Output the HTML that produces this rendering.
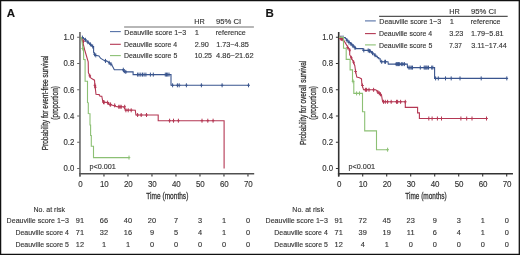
<!DOCTYPE html>
<html><head><meta charset="utf-8"><style>
html,body{margin:0;padding:0;background:#fff;}
svg{display:block;font-family:"Liberation Sans", sans-serif;will-change:transform;}
text{stroke:#333;stroke-width:0.14px;}
text.c{stroke-width:0.3px;}
</style></head><body>
<svg width="520" height="255" viewBox="0 0 520 255">
<path d="M0 0.6H520M0.6 0V255M519.3 0V255M0 254.3H520" stroke="#111" stroke-width="1.3" fill="none"/>
<text x="6.80" y="16.6" font-size="11.5" text-anchor="start" fill="#111" font-weight="bold">A</text>
<path d="M79.95 32V176.5" stroke="#666" stroke-width="1.6" fill="none"/>
<path d="M79.15 173.7H254.20" stroke="#505050" stroke-width="1.6" fill="none"/>
<path d="M77.15 168.50H79.95M77.15 142.26H79.95M77.15 116.02H79.95M77.15 89.78H79.95M77.15 63.54H79.95M77.15 37.30H79.95" stroke="#666" stroke-width="1.1" fill="none"/>
<path d="M79.95 173.7V176.6M103.95 173.7V176.6M127.95 173.7V176.6M151.95 173.7V176.6M175.95 173.7V176.6M199.95 173.7V176.6M223.95 173.7V176.6M247.95 173.7V176.6" stroke="#666" stroke-width="1.5" fill="none"/>
<text x="74.25" y="171.35" font-size="8.5" text-anchor="end" fill="#333" textLength="10.84" lengthAdjust="spacingAndGlyphs">0.0</text>
<text x="74.25" y="145.11" font-size="8.5" text-anchor="end" fill="#333" textLength="10.84" lengthAdjust="spacingAndGlyphs">0.2</text>
<text x="74.25" y="118.87" font-size="8.5" text-anchor="end" fill="#333" textLength="10.84" lengthAdjust="spacingAndGlyphs">0.4</text>
<text x="74.25" y="92.63" font-size="8.5" text-anchor="end" fill="#333" textLength="10.84" lengthAdjust="spacingAndGlyphs">0.6</text>
<text x="74.25" y="66.39" font-size="8.5" text-anchor="end" fill="#333" textLength="10.84" lengthAdjust="spacingAndGlyphs">0.8</text>
<text x="74.25" y="40.15" font-size="8.5" text-anchor="end" fill="#333" textLength="10.84" lengthAdjust="spacingAndGlyphs">1.0</text>
<text x="80.35" y="186.75" font-size="8.3" text-anchor="middle" fill="#333" textLength="4.43" lengthAdjust="spacingAndGlyphs">0</text>
<text x="104.35" y="186.75" font-size="8.3" text-anchor="middle" fill="#333" textLength="8.86" lengthAdjust="spacingAndGlyphs">10</text>
<text x="128.35" y="186.75" font-size="8.3" text-anchor="middle" fill="#333" textLength="8.86" lengthAdjust="spacingAndGlyphs">20</text>
<text x="152.35" y="186.75" font-size="8.3" text-anchor="middle" fill="#333" textLength="8.86" lengthAdjust="spacingAndGlyphs">30</text>
<text x="176.35" y="186.75" font-size="8.3" text-anchor="middle" fill="#333" textLength="8.86" lengthAdjust="spacingAndGlyphs">40</text>
<text x="200.35" y="186.75" font-size="8.3" text-anchor="middle" fill="#333" textLength="8.86" lengthAdjust="spacingAndGlyphs">50</text>
<text x="224.35" y="186.75" font-size="8.3" text-anchor="middle" fill="#333" textLength="8.86" lengthAdjust="spacingAndGlyphs">60</text>
<text x="248.35" y="186.75" font-size="8.3" text-anchor="middle" fill="#333" textLength="8.86" lengthAdjust="spacingAndGlyphs">70</text>
<text x="146.36" y="199.30" font-size="9.4" fill="#333" textLength="41.95" lengthAdjust="spacingAndGlyphs" class="c">Time (months)</text>
<g transform="translate(47.50,102.85) rotate(-90)"><text x="-47.48" y="0.00" font-size="9.6" fill="#333" textLength="94.87" lengthAdjust="spacingAndGlyphs" class="c">Probability for event-free survival</text></g>
<g transform="translate(57.70,102.85) rotate(-90)"><text x="-16.80" y="0.00" font-size="9.6" fill="#333" textLength="33.61" lengthAdjust="spacingAndGlyphs" class="c">(proportion)</text></g>
<text x="89.44" y="168.80" font-size="7.7" fill="#333" textLength="26.42" lengthAdjust="spacingAndGlyphs">p&lt;0.001</text>
<polyline points="80.50,37.60 82.00,37.60 83.29,37.60 83.29,38.71 84.58,38.71 84.58,39.82 85.87,39.82 85.87,40.93 87.16,40.93 87.16,42.04 88.44,42.04 88.44,43.16 89.73,43.16 89.73,44.27 91.02,44.27 91.02,45.38 92.31,45.38 92.31,46.49 93.60,46.49 93.60,47.60 93.60,52.30 95.50,55.30 99.00,55.90 100.50,58.20 103.50,60.10 105.50,60.90 107.40,61.20 111.80,64.80 114.30,69.70 122.60,69.70 124.30,71.90 133.10,71.90 133.10,74.60 171.00,74.60 171.00,85.30 249.40,85.30" fill="none" stroke="#3a558e" stroke-width="1.1" stroke-linejoin="miter"/>
<path d="M82.40 35.60v4.00M81.10 37.60h2.60M85.40 37.80v4.00M84.10 39.80h2.60M87.90 40.20v4.00M86.60 42.20h2.60M90.40 42.40v4.00M89.10 44.40h2.60M92.70 44.50v4.00M91.40 46.50h2.60M94.60 52.30v4.00M93.30 54.30h2.60M95.80 53.40v4.00M94.50 55.40h2.60M105.50 58.90v4.00M104.20 60.90h2.60M109.20 60.80v4.00M107.90 62.80h2.60M111.00 62.20v4.00M109.70 64.20h2.60M123.30 67.70v4.00M122.00 69.70h2.60M124.30 69.20v4.00M123.00 71.20h2.60M125.80 69.90v4.00M124.50 71.90h2.60M137.60 72.60v4.00M136.30 74.60h2.60M139.00 72.60v4.00M137.70 74.60h2.60M140.80 72.60v4.00M139.50 74.60h2.60M142.50 72.60v4.00M141.20 74.60h2.60M144.10 72.60v4.00M142.80 74.60h2.60M145.90 72.60v4.00M144.60 74.60h2.60M150.40 72.60v4.00M149.10 74.60h2.60M153.30 72.60v4.00M152.00 74.60h2.60M165.30 72.60v4.00M164.00 74.60h2.60M166.50 72.60v4.00M165.20 74.60h2.60M167.70 72.60v4.00M166.40 74.60h2.60M169.00 72.60v4.00M167.70 74.60h2.60M172.60 83.30v4.00M171.30 85.30h2.60M177.40 83.30v4.00M176.10 85.30h2.60M179.20 83.30v4.00M177.90 85.30h2.60M186.40 83.30v4.00M185.10 85.30h2.60M201.40 83.30v4.00M200.10 85.30h2.60M222.10 83.30v4.00M220.80 85.30h2.60M248.50 83.30v4.00M247.20 85.30h2.60" stroke="#3a558e" stroke-width="1.0" fill="none"/>
<polyline points="80.50,37.60 81.00,37.60 82.00,39.00 84.70,50.00 88.20,61.80 88.40,72.70 89.80,75.80 91.00,78.20 94.50,80.20 94.90,85.30 95.30,88.00 96.00,94.20 99.20,94.60 100.00,96.20 101.80,96.20 102.90,102.10 108.20,102.60 108.80,104.40 111.80,105.00 117.00,106.80 123.50,106.80 125.30,109.70 135.30,110.30 135.90,115.00 158.20,115.00 158.20,120.70 224.10,120.70 224.10,168.60" fill="none" stroke="#b43753" stroke-width="1.1" stroke-linejoin="miter"/>
<path d="M83.50 39.40v4.00M82.20 41.40h2.60M89.80 73.80v4.00M88.50 75.80h2.60M94.90 83.30v4.00M93.60 85.30h2.60M95.30 85.20v4.00M94.00 87.20h2.60M103.50 100.10v4.00M102.20 102.10h2.60M104.10 100.30v4.00M102.80 102.30h2.60M107.60 100.60v4.00M106.30 102.60h2.60M110.00 102.40v4.00M108.70 104.40h2.60M110.60 102.60v4.00M109.30 104.60h2.60M114.70 103.40v4.00M113.40 105.40h2.60M118.80 104.80v4.00M117.50 106.80h2.60M120.00 104.80v4.00M118.70 106.80h2.60M121.20 104.80v4.00M119.90 106.80h2.60M124.70 104.80v4.00M123.40 106.80h2.60M125.90 108.30v4.00M124.60 110.30h2.60M128.20 108.30v4.00M126.90 110.30h2.60M131.20 108.30v4.00M129.90 110.30h2.60M137.60 113.00v4.00M136.30 115.00h2.60M141.20 113.00v4.00M139.90 115.00h2.60M146.50 113.00v4.00M145.20 115.00h2.60M169.60 118.70v4.00M168.30 120.70h2.60M173.50 118.70v4.00M172.20 120.70h2.60M178.40 118.70v4.00M177.10 120.70h2.60M202.00 118.70v4.00M200.70 120.70h2.60M207.80 118.70v4.00M206.50 120.70h2.60M213.10 118.70v4.00M211.80 120.70h2.60" stroke="#b43753" stroke-width="1.0" fill="none"/>
<polyline points="80.50,37.60 81.50,37.60 82.50,45.00 83.50,50.00 83.70,59.40 85.10,59.60 85.10,81.30 87.50,81.30 87.50,102.50 88.30,102.80 88.30,113.50 90.00,113.70 90.00,125.00 90.60,125.00 90.60,135.50 91.30,135.50 91.30,146.20 93.50,146.20 93.50,157.60 129.20,157.60" fill="none" stroke="#8cc074" stroke-width="1.1" stroke-linejoin="miter"/>
<path d="M82.70 46.50v4.00M81.40 48.50h2.60M129.00 155.60v4.00M127.70 157.60h2.60" stroke="#8cc074" stroke-width="1.0" fill="none"/>
<text x="194.30" y="24.40" font-size="8.0" fill="#333" textLength="10.54" lengthAdjust="spacingAndGlyphs">HR</text>
<text x="216.05" y="24.40" font-size="8.0" fill="#333" textLength="25.16" lengthAdjust="spacingAndGlyphs">95% CI</text>
<path d="M124.10 27.00H253.90" stroke="#707070" stroke-width="1.2"/>
<path d="M110.00 31.60H120.80" stroke="#5470a6" stroke-width="1.1"/>
<text x="124.32" y="35.15" font-size="8.0" fill="#333" textLength="61.88" lengthAdjust="spacingAndGlyphs">Deauville score 1−3</text>
<text x="194.70" y="35.15" font-size="7.6" text-anchor="start" fill="#333" font-weight="normal">1</text>
<text x="215.73" y="35.15" font-size="8.0" fill="#333" textLength="29.99" lengthAdjust="spacingAndGlyphs">reference</text>
<path d="M110.00 44.30H120.80" stroke="#b43753" stroke-width="1.1"/>
<text x="123.93" y="46.75" font-size="8.0" fill="#333" textLength="53.27" lengthAdjust="spacingAndGlyphs">Deauville score 4</text>
<text x="194.64" y="46.75" font-size="7.6" fill="#333" textLength="14.14" lengthAdjust="spacingAndGlyphs">2.90</text>
<text x="216.15" y="46.75" font-size="7.6" fill="#333" textLength="32.66" lengthAdjust="spacingAndGlyphs">1.73−4.85</text>
<path d="M110.00 55.60H120.80" stroke="#8cc074" stroke-width="1.1"/>
<text x="123.93" y="58.35" font-size="8.0" fill="#333" textLength="53.36" lengthAdjust="spacingAndGlyphs">Deauville score 5</text>
<text x="194.47" y="58.35" font-size="7.6" fill="#333" textLength="17.52" lengthAdjust="spacingAndGlyphs">10.25</text>
<text x="216.04" y="58.35" font-size="7.6" fill="#333" textLength="37.54" lengthAdjust="spacingAndGlyphs">4.86−21.62</text>
<text x="33.43" y="211.80" font-size="8.0" fill="#333" textLength="31.56" lengthAdjust="spacingAndGlyphs">No. at risk</text>
<text x="6.62" y="223.40" font-size="8.0" fill="#333" textLength="62.39" lengthAdjust="spacingAndGlyphs">Deauville score 1−3</text>
<text x="79.95" y="223.40" font-size="7.4" text-anchor="middle" fill="#333" font-weight="normal">91</text>
<text x="103.95" y="223.40" font-size="7.4" text-anchor="middle" fill="#333" font-weight="normal">66</text>
<text x="127.95" y="223.40" font-size="7.4" text-anchor="middle" fill="#333" font-weight="normal">40</text>
<text x="151.95" y="223.40" font-size="7.4" text-anchor="middle" fill="#333" font-weight="normal">20</text>
<text x="175.95" y="223.40" font-size="7.4" text-anchor="middle" fill="#333" font-weight="normal">7</text>
<text x="199.95" y="223.40" font-size="7.4" text-anchor="middle" fill="#333" font-weight="normal">3</text>
<text x="223.95" y="223.40" font-size="7.4" text-anchor="middle" fill="#333" font-weight="normal">1</text>
<text x="247.95" y="223.40" font-size="7.4" text-anchor="middle" fill="#333" font-weight="normal">0</text>
<text x="15.43" y="234.95" font-size="8.0" fill="#333" textLength="53.48" lengthAdjust="spacingAndGlyphs">Deauville score 4</text>
<text x="79.95" y="234.95" font-size="7.4" text-anchor="middle" fill="#333" font-weight="normal">71</text>
<text x="103.95" y="234.95" font-size="7.4" text-anchor="middle" fill="#333" font-weight="normal">32</text>
<text x="127.95" y="234.95" font-size="7.4" text-anchor="middle" fill="#333" font-weight="normal">16</text>
<text x="151.95" y="234.95" font-size="7.4" text-anchor="middle" fill="#333" font-weight="normal">9</text>
<text x="175.95" y="234.95" font-size="7.4" text-anchor="middle" fill="#333" font-weight="normal">5</text>
<text x="199.95" y="234.95" font-size="7.4" text-anchor="middle" fill="#333" font-weight="normal">4</text>
<text x="223.95" y="234.95" font-size="7.4" text-anchor="middle" fill="#333" font-weight="normal">1</text>
<text x="247.95" y="234.95" font-size="7.4" text-anchor="middle" fill="#333" font-weight="normal">0</text>
<text x="15.43" y="246.50" font-size="8.0" fill="#333" textLength="53.56" lengthAdjust="spacingAndGlyphs">Deauville score 5</text>
<text x="79.95" y="246.50" font-size="7.4" text-anchor="middle" fill="#333" font-weight="normal">12</text>
<text x="103.95" y="246.50" font-size="7.4" text-anchor="middle" fill="#333" font-weight="normal">1</text>
<text x="127.95" y="246.50" font-size="7.4" text-anchor="middle" fill="#333" font-weight="normal">1</text>
<text x="151.95" y="246.50" font-size="7.4" text-anchor="middle" fill="#333" font-weight="normal">0</text>
<text x="175.95" y="246.50" font-size="7.4" text-anchor="middle" fill="#333" font-weight="normal">0</text>
<text x="199.95" y="246.50" font-size="7.4" text-anchor="middle" fill="#333" font-weight="normal">0</text>
<text x="223.95" y="246.50" font-size="7.4" text-anchor="middle" fill="#333" font-weight="normal">0</text>
<text x="247.95" y="246.50" font-size="7.4" text-anchor="middle" fill="#333" font-weight="normal">0</text>
<text x="265.55" y="16.6" font-size="11.5" text-anchor="start" fill="#111" font-weight="bold">B</text>
<path d="M338.70 32V176.5" stroke="#333" stroke-width="1.6" fill="none"/>
<path d="M337.90 173.7H512.95" stroke="#333" stroke-width="1.6" fill="none"/>
<path d="M335.90 168.50H338.70M335.90 142.26H338.70M335.90 116.02H338.70M335.90 89.78H338.70M335.90 63.54H338.70M335.90 37.30H338.70" stroke="#333" stroke-width="1.1" fill="none"/>
<path d="M338.70 173.7V176.6M362.70 173.7V176.6M386.70 173.7V176.6M410.70 173.7V176.6M434.70 173.7V176.6M458.70 173.7V176.6M482.70 173.7V176.6M506.70 173.7V176.6" stroke="#333" stroke-width="1.1" fill="none"/>
<text x="333.00" y="171.35" font-size="8.5" text-anchor="end" fill="#333" textLength="10.84" lengthAdjust="spacingAndGlyphs">0.0</text>
<text x="333.00" y="145.11" font-size="8.5" text-anchor="end" fill="#333" textLength="10.84" lengthAdjust="spacingAndGlyphs">0.2</text>
<text x="333.00" y="118.87" font-size="8.5" text-anchor="end" fill="#333" textLength="10.84" lengthAdjust="spacingAndGlyphs">0.4</text>
<text x="333.00" y="92.63" font-size="8.5" text-anchor="end" fill="#333" textLength="10.84" lengthAdjust="spacingAndGlyphs">0.6</text>
<text x="333.00" y="66.39" font-size="8.5" text-anchor="end" fill="#333" textLength="10.84" lengthAdjust="spacingAndGlyphs">0.8</text>
<text x="333.00" y="40.15" font-size="8.5" text-anchor="end" fill="#333" textLength="10.84" lengthAdjust="spacingAndGlyphs">1.0</text>
<text x="339.10" y="186.75" font-size="8.3" text-anchor="middle" fill="#333" textLength="4.43" lengthAdjust="spacingAndGlyphs">0</text>
<text x="363.10" y="186.75" font-size="8.3" text-anchor="middle" fill="#333" textLength="8.86" lengthAdjust="spacingAndGlyphs">10</text>
<text x="387.10" y="186.75" font-size="8.3" text-anchor="middle" fill="#333" textLength="8.86" lengthAdjust="spacingAndGlyphs">20</text>
<text x="411.10" y="186.75" font-size="8.3" text-anchor="middle" fill="#333" textLength="8.86" lengthAdjust="spacingAndGlyphs">30</text>
<text x="435.10" y="186.75" font-size="8.3" text-anchor="middle" fill="#333" textLength="8.86" lengthAdjust="spacingAndGlyphs">40</text>
<text x="459.10" y="186.75" font-size="8.3" text-anchor="middle" fill="#333" textLength="8.86" lengthAdjust="spacingAndGlyphs">50</text>
<text x="483.10" y="186.75" font-size="8.3" text-anchor="middle" fill="#333" textLength="8.86" lengthAdjust="spacingAndGlyphs">60</text>
<text x="507.10" y="186.75" font-size="8.3" text-anchor="middle" fill="#333" textLength="8.86" lengthAdjust="spacingAndGlyphs">70</text>
<text x="405.26" y="199.30" font-size="9.4" fill="#333" textLength="41.44" lengthAdjust="spacingAndGlyphs" class="c">Time (months)</text>
<g transform="translate(306.25,102.85) rotate(-90)"><text x="-42.23" y="0.00" font-size="9.6" fill="#333" textLength="84.36" lengthAdjust="spacingAndGlyphs" class="c">Probability for overall survival</text></g>
<g transform="translate(316.45,102.85) rotate(-90)"><text x="-16.80" y="0.00" font-size="9.6" fill="#333" textLength="33.61" lengthAdjust="spacingAndGlyphs" class="c">(proportion)</text></g>
<text x="348.54" y="168.80" font-size="7.7" fill="#333" textLength="26.42" lengthAdjust="spacingAndGlyphs">p&lt;0.001</text>
<polyline points="339.00,37.50 344.00,37.50 345.28,37.50 345.28,38.73 346.56,38.73 346.56,39.97 347.83,39.97 347.83,41.20 349.11,41.20 349.11,42.43 350.39,42.43 350.39,43.67 351.67,43.67 351.67,44.90 352.94,44.90 352.94,46.13 354.22,46.13 354.22,47.37 355.50,47.37 355.50,48.60 363.10,48.60 363.10,50.40 368.60,50.40 370.05,50.40 370.05,51.60 371.50,51.60 371.50,52.80 372.95,52.80 372.95,54.00 374.40,54.00 374.40,55.20 375.85,55.20 375.85,56.40 377.30,56.40 377.30,57.60 378.75,57.60 378.75,58.80 380.20,58.80 380.20,60.00 380.50,61.80 388.00,61.80 388.30,64.10 407.30,64.10 407.50,67.60 434.60,67.60 434.60,78.40 507.30,78.40" fill="none" stroke="#3a558e" stroke-width="1.1" stroke-linejoin="miter"/>
<path d="M341.00 35.50v4.00M339.70 37.50h2.60M343.00 35.50v4.00M341.70 37.50h2.60M347.00 38.50v4.00M345.70 40.50h2.60M349.00 40.50v4.00M347.70 42.50h2.60M351.00 42.00v4.00M349.70 44.00h2.60M353.00 44.00v4.00M351.70 46.00h2.60M355.00 45.90v4.00M353.70 47.90h2.60M363.80 48.40v4.00M362.50 50.40h2.60M368.20 48.40v4.00M366.90 50.40h2.60M369.30 48.90v4.00M368.00 50.90h2.60M370.00 49.20v4.00M368.70 51.20h2.60M372.50 51.20v4.00M371.20 53.20h2.60M375.00 53.20v4.00M373.70 55.20h2.60M381.70 59.80v4.00M380.40 61.80h2.60M384.80 59.80v4.00M383.50 61.80h2.60M385.50 59.80v4.00M384.20 61.80h2.60M396.20 62.10v4.00M394.90 64.10h2.60M397.00 62.10v4.00M395.70 64.10h2.60M397.80 62.10v4.00M396.50 64.10h2.60M398.60 62.10v4.00M397.30 64.10h2.60M399.30 62.10v4.00M398.00 64.10h2.60M401.30 62.10v4.00M400.00 64.10h2.60M402.80 62.10v4.00M401.50 64.10h2.60M404.40 62.10v4.00M403.10 64.10h2.60M408.90 65.60v4.00M407.60 67.60h2.60M410.00 65.60v4.00M408.70 67.60h2.60M411.30 65.60v4.00M410.00 67.60h2.60M412.50 65.60v4.00M411.20 67.60h2.60M420.30 65.60v4.00M419.00 67.60h2.60M424.20 65.60v4.00M422.90 67.60h2.60M425.20 65.60v4.00M423.90 67.60h2.60M426.20 65.60v4.00M424.90 67.60h2.60M427.20 65.60v4.00M425.90 67.60h2.60M428.50 65.60v4.00M427.20 67.60h2.60M431.70 65.60v4.00M430.40 67.60h2.60M432.80 65.60v4.00M431.50 67.60h2.60M435.60 76.40v4.00M434.30 78.40h2.60M438.30 76.40v4.00M437.00 78.40h2.60M445.50 76.40v4.00M444.20 78.40h2.60M451.20 76.40v4.00M449.90 78.40h2.60M460.00 76.40v4.00M458.70 78.40h2.60M481.20 76.40v4.00M479.90 78.40h2.60M506.80 76.40v4.00M505.50 78.40h2.60" stroke="#3a558e" stroke-width="1.0" fill="none"/>
<polyline points="339.00,37.50 339.50,38.00 342.50,39.20 343.50,39.90 349.70,50.10 349.70,54.70 351.30,57.80 353.60,62.20 354.80,65.70 355.60,71.50 356.80,77.00 359.50,77.80 361.50,78.90 361.90,84.80 363.00,87.90 363.50,89.80 375.80,89.80 377.00,91.20 381.50,95.00 382.60,101.80 405.30,101.80 405.30,107.40 417.60,107.40 417.60,112.90 419.40,112.90 419.40,118.50 487.40,118.50" fill="none" stroke="#b43753" stroke-width="1.1" stroke-linejoin="miter"/>
<path d="M340.30 36.40v4.00M339.00 38.40h2.60M341.50 36.80v4.00M340.20 38.80h2.60M342.70 37.20v4.00M341.40 39.20h2.60M347.70 45.50v4.00M346.40 47.50h2.60M349.70 48.10v4.00M348.40 50.10h2.60M351.30 55.80v4.00M350.00 57.80h2.60M353.60 60.20v4.00M352.30 62.20h2.60M355.60 69.50v4.00M354.30 71.50h2.60M362.50 83.50v4.00M361.20 85.50h2.60M365.40 87.80v4.00M364.10 89.80h2.60M366.60 87.80v4.00M365.30 89.80h2.60M369.00 87.80v4.00M367.70 89.80h2.60M373.60 87.80v4.00M372.30 89.80h2.60M377.80 90.00v4.00M376.50 92.00h2.60M379.30 91.30v4.00M378.00 93.30h2.60M380.50 92.30v4.00M379.20 94.30h2.60M383.50 99.80v4.00M382.20 101.80h2.60M385.30 99.80v4.00M384.00 101.80h2.60M387.60 99.80v4.00M386.30 101.80h2.60M391.20 99.80v4.00M389.90 101.80h2.60M396.50 99.80v4.00M395.20 101.80h2.60M397.60 99.80v4.00M396.30 101.80h2.60M400.60 99.80v4.00M399.30 101.80h2.60M405.30 99.80v4.00M404.00 101.80h2.60M428.80 116.50v4.00M427.50 118.50h2.60M432.10 116.50v4.00M430.80 118.50h2.60M437.40 116.50v4.00M436.10 118.50h2.60M441.50 116.50v4.00M440.20 118.50h2.60M460.90 116.50v4.00M459.60 118.50h2.60M466.70 116.50v4.00M465.40 118.50h2.60M472.00 116.50v4.00M470.70 118.50h2.60M486.50 116.50v4.00M485.20 118.50h2.60" stroke="#b43753" stroke-width="1.0" fill="none"/>
<polyline points="339.00,37.40 343.50,37.40 343.50,48.20 346.20,48.20 346.20,59.40 350.10,59.40 350.10,69.90 352.50,69.90 352.50,81.30 353.80,81.30 353.80,93.40 362.50,93.40 362.50,111.80 364.70,111.80 364.70,130.90 376.50,130.90 376.50,149.70 388.20,149.70" fill="none" stroke="#8cc074" stroke-width="1.1" stroke-linejoin="miter"/>
<path d="M353.00 79.30v4.00M351.70 81.30h2.60M356.60 91.40v4.00M355.30 93.40h2.60M359.50 91.40v4.00M358.20 93.40h2.60M387.60 147.70v4.00M386.30 149.70h2.60" stroke="#8cc074" stroke-width="1.0" fill="none"/>
<text x="449.30" y="13.70" font-size="8.0" fill="#333" textLength="10.54" lengthAdjust="spacingAndGlyphs">HR</text>
<text x="471.05" y="13.70" font-size="8.0" fill="#333" textLength="25.16" lengthAdjust="spacingAndGlyphs">95% CI</text>
<path d="M379.10 16.30H507.70" stroke="#2a2a2a" stroke-width="1.0"/>
<path d="M365.00 20.90H375.80" stroke="#5470a6" stroke-width="1.1"/>
<text x="379.32" y="24.45" font-size="8.0" fill="#333" textLength="61.88" lengthAdjust="spacingAndGlyphs">Deauville score 1−3</text>
<text x="449.70" y="24.45" font-size="7.6" text-anchor="start" fill="#333" font-weight="normal">1</text>
<text x="470.73" y="24.45" font-size="8.0" fill="#333" textLength="29.78" lengthAdjust="spacingAndGlyphs">reference</text>
<path d="M365.00 33.60H375.80" stroke="#b43753" stroke-width="1.1"/>
<text x="378.93" y="36.05" font-size="8.0" fill="#333" textLength="53.27" lengthAdjust="spacingAndGlyphs">Deauville score 4</text>
<text x="449.22" y="36.05" font-size="7.6" fill="#333" textLength="14.09" lengthAdjust="spacingAndGlyphs">3.23</text>
<text x="470.95" y="36.05" font-size="7.6" fill="#333" textLength="32.61" lengthAdjust="spacingAndGlyphs">1.79−5.81</text>
<path d="M365.00 44.90H375.80" stroke="#8cc074" stroke-width="1.1"/>
<text x="378.93" y="47.65" font-size="8.0" fill="#333" textLength="53.36" lengthAdjust="spacingAndGlyphs">Deauville score 5</text>
<text x="449.17" y="47.65" font-size="7.6" fill="#333" textLength="12.66" lengthAdjust="spacingAndGlyphs">7.37</text>
<text x="471.23" y="47.65" font-size="7.6" fill="#333" textLength="35.58" lengthAdjust="spacingAndGlyphs">3.11−17.44</text>
<text x="292.33" y="211.80" font-size="8.0" fill="#333" textLength="31.56" lengthAdjust="spacingAndGlyphs">No. at risk</text>
<text x="265.52" y="223.40" font-size="8.0" fill="#333" textLength="62.39" lengthAdjust="spacingAndGlyphs">Deauville score 1−3</text>
<text x="338.70" y="223.40" font-size="7.4" text-anchor="middle" fill="#333" font-weight="normal">91</text>
<text x="362.70" y="223.40" font-size="7.4" text-anchor="middle" fill="#333" font-weight="normal">72</text>
<text x="386.70" y="223.40" font-size="7.4" text-anchor="middle" fill="#333" font-weight="normal">45</text>
<text x="410.70" y="223.40" font-size="7.4" text-anchor="middle" fill="#333" font-weight="normal">23</text>
<text x="434.70" y="223.40" font-size="7.4" text-anchor="middle" fill="#333" font-weight="normal">9</text>
<text x="458.70" y="223.40" font-size="7.4" text-anchor="middle" fill="#333" font-weight="normal">3</text>
<text x="482.70" y="223.40" font-size="7.4" text-anchor="middle" fill="#333" font-weight="normal">1</text>
<text x="506.70" y="223.40" font-size="7.4" text-anchor="middle" fill="#333" font-weight="normal">0</text>
<text x="274.33" y="234.95" font-size="8.0" fill="#333" textLength="53.48" lengthAdjust="spacingAndGlyphs">Deauville score 4</text>
<text x="338.70" y="234.95" font-size="7.4" text-anchor="middle" fill="#333" font-weight="normal">71</text>
<text x="362.70" y="234.95" font-size="7.4" text-anchor="middle" fill="#333" font-weight="normal">39</text>
<text x="386.70" y="234.95" font-size="7.4" text-anchor="middle" fill="#333" font-weight="normal">19</text>
<text x="410.70" y="234.95" font-size="7.4" text-anchor="middle" fill="#333" font-weight="normal">11</text>
<text x="434.70" y="234.95" font-size="7.4" text-anchor="middle" fill="#333" font-weight="normal">6</text>
<text x="458.70" y="234.95" font-size="7.4" text-anchor="middle" fill="#333" font-weight="normal">4</text>
<text x="482.70" y="234.95" font-size="7.4" text-anchor="middle" fill="#333" font-weight="normal">1</text>
<text x="506.70" y="234.95" font-size="7.4" text-anchor="middle" fill="#333" font-weight="normal">0</text>
<text x="274.33" y="246.50" font-size="8.0" fill="#333" textLength="53.56" lengthAdjust="spacingAndGlyphs">Deauville score 5</text>
<text x="338.70" y="246.50" font-size="7.4" text-anchor="middle" fill="#333" font-weight="normal">12</text>
<text x="362.70" y="246.50" font-size="7.4" text-anchor="middle" fill="#333" font-weight="normal">4</text>
<text x="386.70" y="246.50" font-size="7.4" text-anchor="middle" fill="#333" font-weight="normal">1</text>
<text x="410.70" y="246.50" font-size="7.4" text-anchor="middle" fill="#333" font-weight="normal">0</text>
<text x="434.70" y="246.50" font-size="7.4" text-anchor="middle" fill="#333" font-weight="normal">0</text>
<text x="458.70" y="246.50" font-size="7.4" text-anchor="middle" fill="#333" font-weight="normal">0</text>
<text x="482.70" y="246.50" font-size="7.4" text-anchor="middle" fill="#333" font-weight="normal">0</text>
<text x="506.70" y="246.50" font-size="7.4" text-anchor="middle" fill="#333" font-weight="normal">0</text>
</svg>
</body></html>
